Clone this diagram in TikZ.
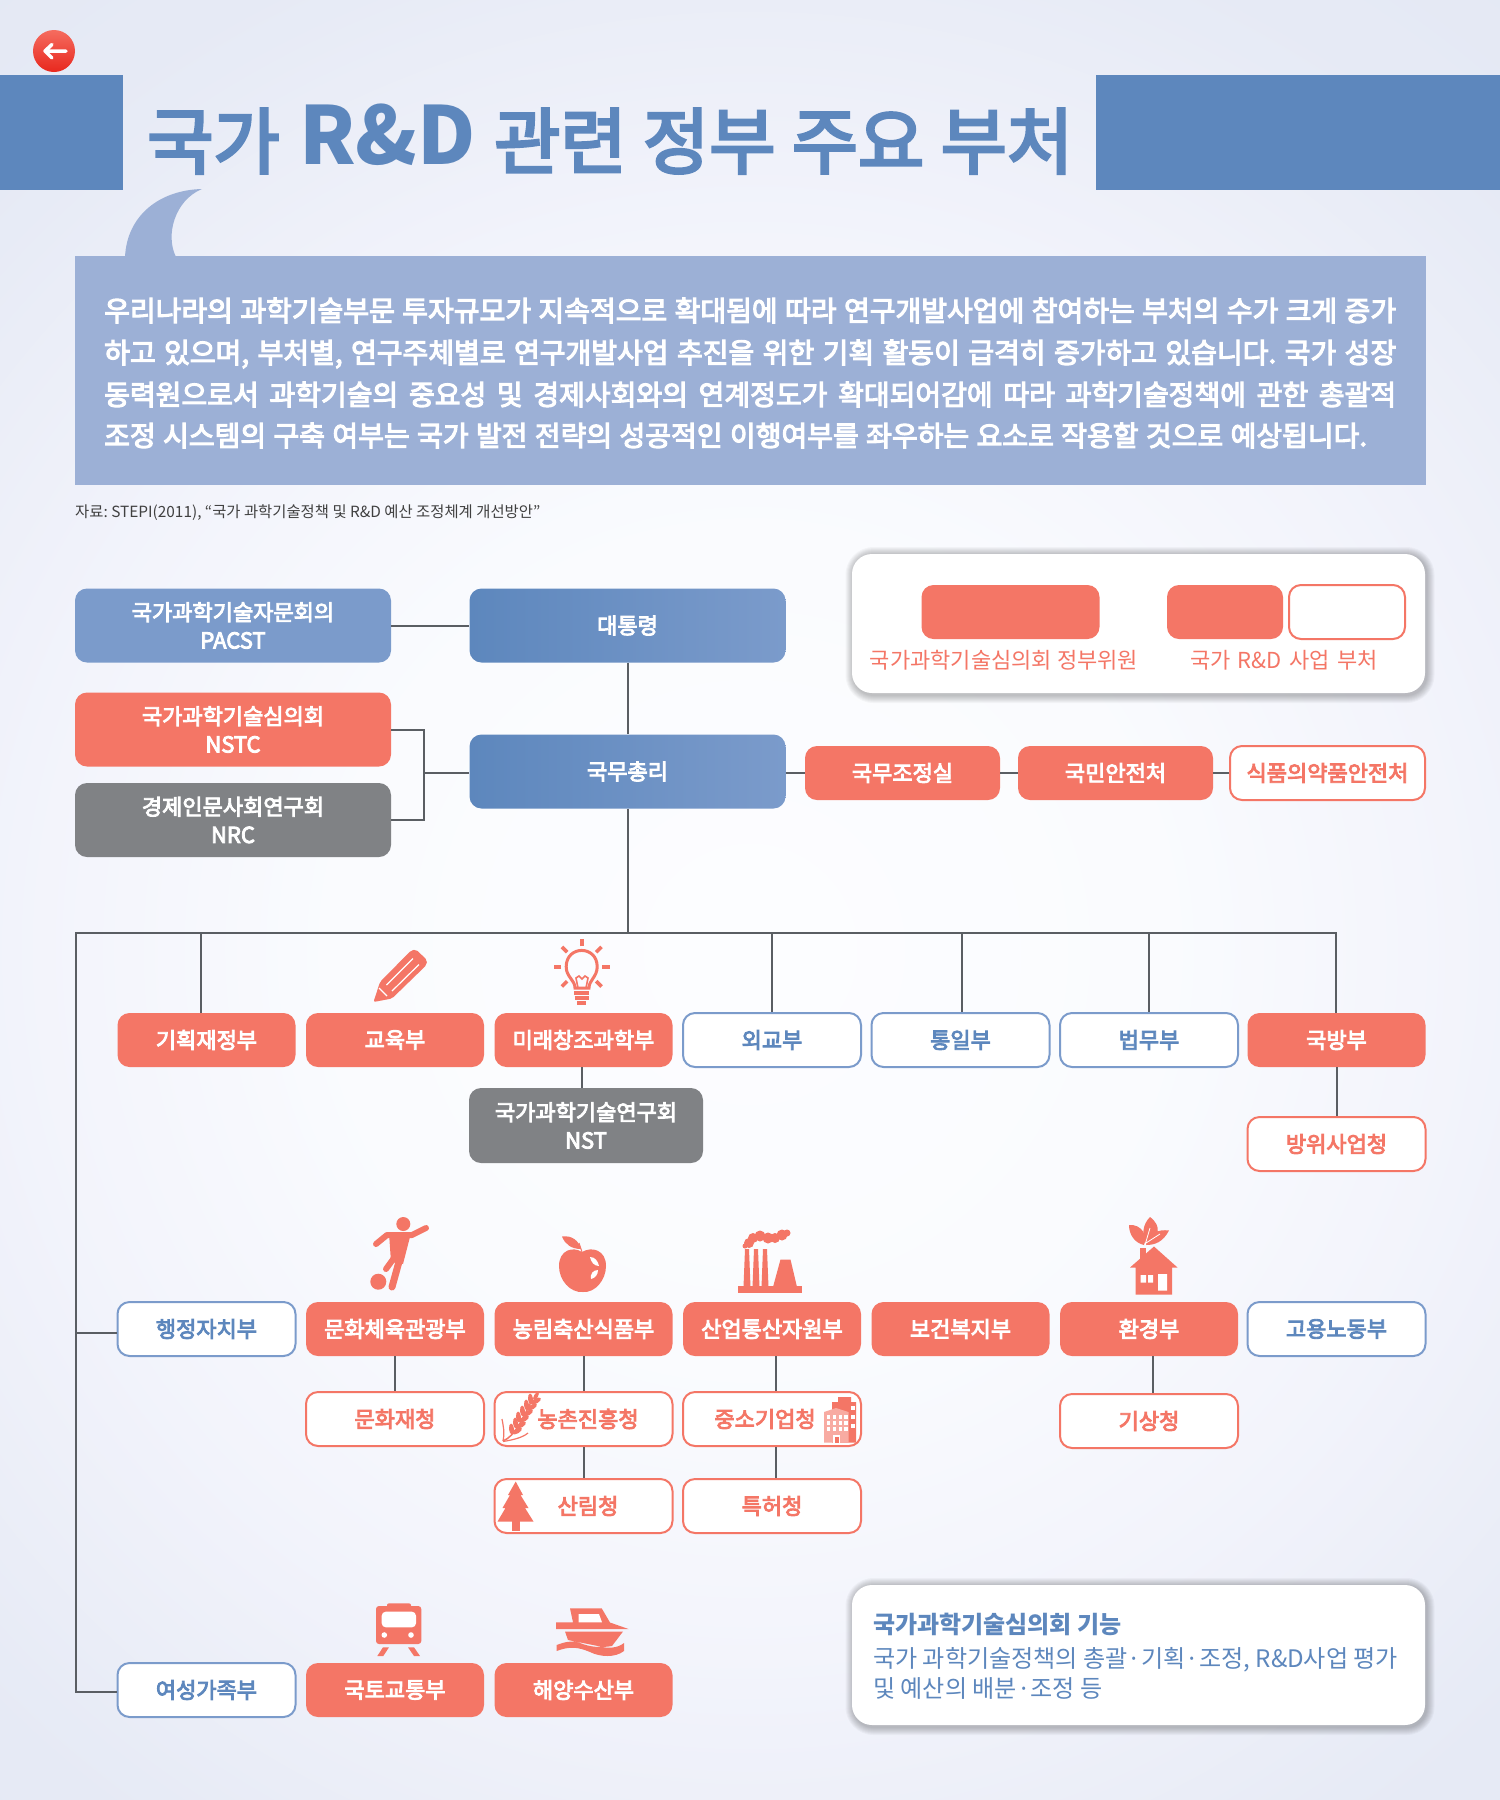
\documentclass[tikz,border=0pt]{standalone}
\usepackage{fontspec}
\setmainfont{Noto Sans CJK KR}
\newfontfamily\krr{Noto Sans CJK KR}
\newfontfamily\krm[FakeBold=4]{Noto Sans CJK KR}
\newcommand{\krb}{\krr\bfseries}
\frenchspacing
\usetikzlibrary{calc}
\definecolor{cred}{HTML}{F47666}
\definecolor{cblue}{HTML}{5D87BD}
\definecolor{cblue2}{HTML}{7B9BCB}
\definecolor{cpara}{HTML}{9CB0D6}
\definecolor{cgrey}{HTML}{808285}
\definecolor{cline}{HTML}{5A5E63}
\definecolor{cpink}{HTML}{F8ABA2}
\definecolor{btop}{HTML}{F56C5F}
\definecolor{bbot}{HTML}{E8281E}
\pgfdeclareradialshading{pagebg}{\pgfpoint{0bp}{0bp}}{rgb(0bp)=(0.99,0.992,1);rgb(8bp)=(0.98,0.985,0.997);rgb(14bp)=(0.95,0.955,0.985);rgb(20bp)=(0.905,0.92,0.963);rgb(27bp)=(0.885,0.905,0.95);rgb(50bp)=(0.885,0.905,0.95)}
\tikzset{
  x=1pt,y=-1pt,
  base/.style={rectangle,rounded corners=12pt,inner sep=0pt,align=center,font=\fontsize{22}{28}\selectfont\krm},
  redbox/.style={base,fill=cred,text=white},
  outred/.style={base,draw=cred,line width=2pt,fill=white,text=cred},
  outblue/.style={base,draw=cblue2,line width=2pt,fill=white,text=cblue},
  greybox/.style={base,fill=cgrey,text=white},
  lightbox/.style={base,fill=cblue2,text=white},
  gradbox/.style={base,left color=cblue,right color=cblue2,text=white},
  wide/.style={minimum width=316pt,minimum height=74pt},
  mins/.style={minimum width=178pt,minimum height=54pt},
  midbox/.style={minimum width=195pt,minimum height=54pt},
  conn/.style={draw=cline,line width=2pt},
  icon/.style={fill=cred,draw=none},
  para/.style={anchor=base west,inner sep=0pt,text=white,font=\fontsize{28}{28}\selectfont\krm},
  ttl/.style={anchor=base west,inner sep=0pt,text=cblue},
  captxt/.style={inner sep=0pt,text=cred,font=\fontsize{22}{28}\selectfont\krr},
  itxt/.style={anchor=base west,inner sep=0pt,text=cblue,font=\fontsize{24.1}{24}\selectfont\krr},
}
\newcommand{\softbox}[4]{%
  \foreach \g [evaluate=\g as \rr using 20+\g] in {8,7,...,1}{\fill[black,opacity=0.03,rounded corners=\rr pt] (#1-\g+1.5,#2-\g+1) rectangle (#3+\g+1.5,#4+\g+2);}%
  \fill[white,rounded corners=20pt] (#1,#2) rectangle (#3,#4);}
\begin{document}
\begin{tikzpicture}
\useasboundingbox (0,0) rectangle (1500,1800);
\begin{scope}
\clip (0,0) rectangle (1500,1800);
\shade[shading=pagebg] (-550,-350) rectangle (2050,2250);
\end{scope}
% back button
\shade[top color=btop,bottom color=bbot] (54,51) circle (21);
\draw[white,line width=3.5pt,line cap=round,line join=round] (66,51) -- (46,51) (52,44.5) -- (45,51) -- (52,58);
% title
\fill[cblue] (0,75) rectangle (123,190);
\fill[cblue] (1096,75) rectangle (1500,190);
\node[ttl,font=\fontsize{72}{72}\selectfont\krm] (t1) at (147,168) {국가};
\node[ttl,font=\fontsize{80}{80}\selectfont\krb] (t2) at (299,164) {R\&D};
\node[ttl,font=\fontsize{72}{72}\selectfont\krm] (t3) at (494,168) {\makebox[579pt][s]{관련 정부 주요 부처}};
% paragraph box and tail
\fill[cpara] (125,257) .. controls (127,215) and (160,190) .. (202,189) .. controls (175,200) and (165,235) .. (176,257) -- cycle;
\fill[cpara] (75,256) rectangle (1426,485);
\node[para] (p1) at (104,321) {\makebox[1292pt][s]{우리나라의 과학기술부문 투자규모가 지속적으로 확대됨에 따라 연구개발사업에 참여하는 부처의 수가 크게 증가}};
\node[para] (p2) at (104,363) {\makebox[1292pt][s]{하고 있으며, 부처별, 연구주체별로 연구개발사업 추진을 위한 기획 활동이 급격히 증가하고 있습니다. 국가 성장}};
\node[para] (p3) at (104,405) {\makebox[1292pt][s]{동력원으로서 과학기술의 중요성 및 경제사회와의 연계정도가 확대되어감에 따라 과학기술정책에 관한 총괄적}};
\node[para] (p4) at (104,446) {\makebox[1263pt][s]{조정 시스템의 구축 여부는 국가 발전 전략의 성공적인 이행여부를 좌우하는 요소로 작용할 것으로 예상됩니다.}};
\node[anchor=base west,inner sep=0pt,text=black!75,font=\fontsize{15.4}{15}\selectfont\krr] (src) at (75,517) {자료: STEPI(2011), “국가 과학기술정책 및 R\&D 예산 조정체계 개선방안”};
% legend
\softbox{852}{554}{1425}{693}
\node[redbox,minimum width=178pt,minimum height=54pt] (lg1) at (1010.5,612) {};
\node[redbox,minimum width=116pt,minimum height=54pt] (lg2) at (1225,612) {};
\node[outred,minimum width=116pt,minimum height=54pt] (lg3) at (1347,612) {};
\node[captxt] (lt1) at (1004,660) {국가과학기술심의회 정부위원};
\node[captxt] (lt2) at (1284,660) {\makebox[188pt][s]{국가 R\&D 사업 부처}};
% top boxes
\node[lightbox,wide] (pacst) at (233,625.5) {국가과학기술자문회의\\PACST};
\node[gradbox,wide] (pres) at (627.5,625.5) {대통령};
\node[redbox,wide] (nstc) at (233,729.5) {국가과학기술심의회\\NSTC};
\node[greybox,wide] (nrc) at (233,820) {경제인문사회연구회\\NRC};
\node[gradbox,wide] (pm) at (627.5,771.5) {국무총리};
\node[redbox,midbox] (opm) at (902.5,773) {국무조정실};
\node[redbox,midbox] (mpss) at (1115.5,773) {국민안전처};
\node[outred,midbox] (mfds) at (1327.5,773) {식품의약품안전처};
% row 1
\node[redbox,mins] (m1) at (206.5,1040) {기획재정부};
\node[redbox,mins] (m2) at (395,1040) {교육부};
\node[redbox,mins] (m3) at (583.5,1040) {미래창조과학부};
\node[outblue,mins] (m4) at (772,1040) {외교부};
\node[outblue,mins] (m5) at (960.5,1040) {통일부};
\node[outblue,mins] (m6) at (1149,1040) {법무부};
\node[redbox,mins] (m7) at (1336.5,1040) {국방부};
\node[greybox,minimum width=234pt,minimum height=75pt] (nst) at (586,1125.5) {국가과학기술연구회\\NST};
\node[outred,mins] (dapa) at (1336.5,1144) {방위사업청};
% row 2
\node[outblue,mins] (n1) at (206.5,1329) {행정자치부};
\node[redbox,mins] (n2) at (395,1329) {문화체육관광부};
\node[redbox,mins] (n3) at (583.5,1329) {농림축산식품부};
\node[redbox,mins] (n4) at (772,1329) {산업통산자원부};
\node[redbox,mins] (n5) at (960.5,1329) {보건복지부};
\node[redbox,mins] (n6) at (1149,1329) {환경부};
\node[outblue,mins] (n7) at (1336.5,1329) {고용노동부};
\node[outred,mins] (c2) at (395,1419) {문화재청};
\node[outred,mins] (c3) at (583.5,1419) {\hspace*{9pt}농촌진흥청};
\node[outred,mins] (c4) at (772,1419) {\hspace*{-14pt}중소기업청};
\node[outred,mins] (c6) at (1149,1421) {기상청};
\node[outred,mins] (d3) at (583.5,1506) {\hspace*{9pt}산림청};
\node[outred,mins] (d4) at (772,1506) {특허청};
% row 3
\node[outblue,mins] (r1) at (206.5,1690) {여성가족부};
\node[redbox,mins] (r2) at (395,1690) {국토교통부};
\node[redbox,mins] (r3) at (583.5,1690) {해양수산부};
% info
\softbox{852}{1585}{1425}{1725}
\node[anchor=base west,inner sep=0pt,text=cblue,font=\fontsize{24}{24}\selectfont\krb] (i1) at (873,1633) {국가과학기술심의회 기능};
\node[itxt] (i2) at (873,1667) {국가 과학기술정책의 총괄·기획·조정, R\&D사업 평가};
\node[itxt] (i3) at (873,1697) {및 예산의 배분·조정 등};
% connectors
\draw[conn] (pacst.east) -- (pres.west);
\draw[conn] (pres.south) -- (pm.north);
\coordinate (brk) at (423.5,773);
\draw[conn] (nstc.east) -| (brk) |- (nrc.east);
\draw[conn] (brk) -- (brk -| pm.west);
\draw[conn] (pm.east |- opm.west) -- (opm.west);
\draw[conn] (opm.east) -- (mpss.west);
\draw[conn] (mpss.east) -- (mfds.west);
\coordinate (bus) at (627.5,933);
\coordinate (busL) at (76,933);
\coordinate (busR) at (1336,933);
\coordinate (busB) at (76,1692);
\coordinate (busM) at (76,1333);
\draw[conn] (pm.south) -- (bus);
\draw[conn] (busR |- m7.north) -- (busR) -- (busL) -- (busB) -- (busB -| r1.west);
\draw[conn] (busM) -- (busM -| n1.west);
\foreach \bx/\nm in {201/m1,772/m4,962/m5,1149/m6}{\coordinate (tmp) at (\bx,933); \draw[conn] (tmp) -- (tmp |- \nm.north);}
\draw[conn] ([xshift=-1.5pt]m3.south) -- ([xshift=-1.5pt]m3.south |- nst.north);
\draw[conn] (m7.south) -- (dapa.north);
\draw[conn] (n2.south) -- (c2.north);
\draw[conn] (n3.south) -- (c3.north);
\draw[conn] (c3.south) -- (d3.north);
\draw[conn] ([xshift=4pt]n4.south) -- ([xshift=4pt]c4.north);
\draw[conn] ([xshift=4pt]c4.south) -- ([xshift=4pt]d4.north);
\draw[conn] ([xshift=4pt]n6.south) -- ([xshift=4pt]c6.north);
% pencil
\fill[icon,rounded corners=2pt] (373.5,1002) -- (380,982) -- (411,950.5) -- (416,949.5) -- (427,960) -- (426.5,965) -- (392,998.5) -- cycle;
\draw[white,line width=1.2pt] (386.5,985) -- (413,958.5) (392,991) -- (419,964.5) (379,988) -- (387,996);
% bulb
\draw[cred,line width=3pt] (575,988) .. controls (575,980) and (566.2,977) .. (566.2,966.7) .. controls (566.2,945) and (597.2,945) .. (597.2,966.7) .. controls (597.2,977) and (589,980) .. (589,988) -- cycle;
\draw[cred,line width=1.6pt] (578,988) -- (576,978) -- (579,976) -- (582,979) -- (585,976) -- (588,978) -- (586,988);
\foreach \yy/\ww in {993/7.5,998/7,1003/4.5}{\draw[cred,line width=3.2pt] (581.7-\ww,\yy) -- (581.7+\ww,\yy);}
\foreach \aa in {90,45,135,0,180,-45,225}{\draw[cred,line width=3.6pt] ($(581.7,966.7)+({20.5*cos(\aa)},{-20.5*sin(\aa)})$) -- ($(581.7,966.7)+({28*cos(\aa)},{-28*sin(\aa)})$);}
% player
\fill[icon] (403.3,1224) circle (7);
\fill[icon] (378.3,1281.7) circle (8);
\draw[cred,line width=6pt,line cap=round,line join=round] (376,1244) -- (387,1235) -- (412,1235) -- (426,1228);
\fill[icon] (389,1233) -- (411,1233) -- (403,1264) -- (391,1262) -- cycle;
\draw[cred,line width=7pt,line cap=round] (400,1258) -- (392,1287);
\draw[cred,line width=6pt,line cap=round] (394,1258) -- (386,1269);
% apple
\fill[icon] (582,1252) .. controls (592,1246) and (606,1250) .. (606,1266) .. controls (606,1280) and (595,1293) .. (583,1292) .. controls (570,1293) and (559,1280) .. (559,1266) .. controls (559,1250) and (573,1246) .. (582,1252) -- cycle;
\fill[icon] (562,1236.5) .. controls (572,1235) and (579,1241) .. (581,1249) .. controls (571,1249) and (565,1244) .. (562,1236.5) -- cycle;
\draw[cred,line width=1pt] (579,1243) -- (582,1252);
\fill[white] (590,1257) .. controls (595,1257) and (598,1261) .. (599,1266) .. controls (594,1266) and (591,1262) .. (590,1257) -- cycle;
\fill[white] (598,1270) .. controls (598,1275) and (595,1278) .. (591,1279) .. controls (590,1274) and (593,1270) .. (598,1270) -- cycle;
% factory
\fill[icon] (737.5,1286) rectangle (802,1293);
\foreach \cx in {747,756,765}{\fill[icon] (\cx-2,1249) -- (\cx+2,1249) -- (\cx+3.5,1287) -- (\cx-3.5,1287) -- cycle;}
\fill[icon] (780.5,1259.5) -- (790.5,1259.5) -- (797,1287) -- (773,1287) -- cycle;
\foreach \sx/\sy/\sr in {749/1243/5,753/1238/5,760/1236/5.5,768/1238/5.5,775/1238/5,782/1235/5.5,787/1233/3.5,745/1246/2.5}{\fill[icon] (\sx,\sy) circle (\sr);}
% environment house
\fill[icon] (1130,1267.5) -- (1154,1246.5) -- (1177.5,1267.5) -- (1172,1267.5) -- (1172,1294.5) -- (1135.7,1294.5) -- (1135.7,1267.5) -- cycle;
\fill[icon] (1140,1248) rectangle (1145.5,1262);
\fill[white] (1140.5,1275) rectangle (1146,1282.5) (1148,1275) rectangle (1153,1282.5) (1158,1274) rectangle (1167,1290.5);
\fill[icon] (1150,1217) .. controls (1162,1226) and (1160,1238) .. (1146,1244) .. controls (1142,1235) and (1142,1225) .. (1150,1217) -- cycle;
\fill[icon] (1129,1225) .. controls (1142,1224) and (1148,1236) .. (1144,1245) .. controls (1135,1243) and (1129,1235) .. (1129,1225) -- cycle;
\fill[icon] (1169,1230.5) .. controls (1163,1242) and (1155,1245) .. (1146,1245) .. controls (1150,1233) and (1158,1229) .. (1169,1230.5) -- cycle;
\draw[white,line width=.8pt] (1145,1245) -- (1150,1228) (1146,1243) -- (1160,1234);
% wheat
\draw[cred,line width=1.5pt] (503,1441) .. controls (515,1436) and (522,1420) .. (533,1398);
\draw[cred,line width=1.2pt] (503,1441.5) .. controls (512,1440) and (522,1438) .. (528,1433) (503,1441) .. controls (505,1432) and (503,1425) .. (502,1419);
\foreach \wx/\wy in {533/1399,529/1405,525/1411,521/1417,518/1423,514/1429}{
  \fill[icon,rotate around={95:(\wx-2.5,\wy)}] (\wx-2.5,\wy) ellipse (5.5 and 2.5);
  \fill[icon,rotate around={30:(\wx+3,\wy+2)}] (\wx+3,\wy+2) ellipse (5.5 and 2.5);}
\fill[icon,rotate around={60:(536,1396)}] (536,1396) ellipse (4.5 and 2);
% building
\fill[icon] (832,1442.5) -- (832,1402) -- (838,1402) -- (838,1397) -- (851,1397) -- (851,1402) -- (856,1402) -- (856,1442.5) -- cycle;
\fill[cpink] (824,1442.7) -- (824,1412) -- (836,1408) -- (848.5,1412) -- (848.5,1442.7) -- cycle;
\foreach \wy in {1415,1421,1427}{\foreach \wx in {826.5,832.5,838.5,844}{\fill[white] (\wx,\wy) rectangle +(3.5,3.5);}}
\foreach \wy in {1406,1415,1424}{\fill[white] (850.5,\wy) rectangle +(4,4);}
\fill[white] (833,1435) rectangle (840,1442.7);
\fill[icon] (834.5,1436.5) rectangle (838.5,1442.7);
% tree
\fill[icon] (515.7,1481.5) -- (523,1495) -- (520.5,1495) -- (528.5,1508) -- (525,1508) -- (533.5,1521.5) -- (497.5,1521.5) -- (505.5,1508) -- (502.5,1508) -- (510,1495) -- (508,1495) -- cycle;
\fill[icon] (511.7,1521) rectangle (520,1531);
% train
\fill[icon,rounded corners=3pt] (376,1606) rectangle (421.3,1644);
\fill[icon,rounded corners=2pt] (387,1603.3) rectangle (411,1610);
\fill[white,rounded corners=4pt] (381.7,1611.7) rectangle (416,1627.3);
\fill[white] (384.3,1635) circle (2.8) (411,1635) circle (2.8);
\fill[icon] (377.3,1656) -- (383,1647.3) -- (389,1647.3) -- (383.3,1656) -- cycle;
\fill[icon] (408,1647.3) -- (414,1647.3) -- (420,1656) -- (414,1656) -- cycle;
% ship
\fill[icon] (570,1608.3) -- (601.7,1608.3) -- (610,1622.5) -- (628.5,1629) -- (556,1629) -- (556,1622.3) -- (573,1622.3) -- cycle;
\fill[white] (578.5,1614) -- (599,1614) -- (602,1622.3) -- (578.5,1622.3) -- cycle;
\fill[icon] (565,1631.5) -- (623,1631.5) -- (612,1646) .. controls (600,1648) and (590,1647) .. (580,1643) .. controls (572,1640) and (565,1642) .. (556.5,1645) -- (556.5,1651) .. controls (570,1646) and (578,1647) .. (590,1652) .. controls (600,1657) and (615,1658) .. (624,1651) -- (624,1643) .. controls (618,1648) and (608,1649) .. (598,1646) -- (568,1640) -- cycle;
\end{tikzpicture}
\end{document}
